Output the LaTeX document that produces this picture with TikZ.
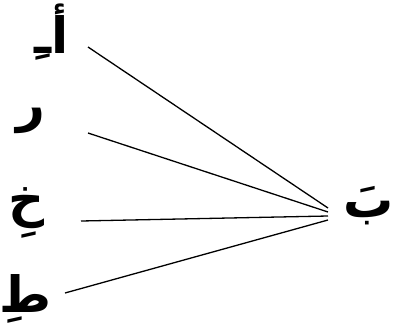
\documentclass[tikz,border=0pt]{standalone}
\usepackage{fontspec}
\TeXXeTstate=1
\newfontfamily\arabicfont[Script=Arabic]{DejaVu Sans}
\begin{document}
\begin{tikzpicture}[x=1pt,y=-1pt,
  lbl/.style={font=\arabicfont\bfseries\fontsize{50}{56}\selectfont, inner sep=0pt},
  link/.style={line width=1.3pt}]
\useasboundingbox (0,0) rectangle (400,325);
\node[lbl] (a) at (52,32) {\beginR أـِ\endR};
\node[lbl] (r) at (31,121) {\beginR ر\endR};
\node[lbl] (k) at (27,213) {\beginR خِ\endR};
\node[lbl] (t) at (25,299) {\beginR طِ\endR};
\node[lbl] (b) at (369,206) {\beginR بَ\endR};
\coordinate (a0) at (88,47);
\coordinate (r0) at (88,133);
\coordinate (k0) at (81,221);
\coordinate (t0) at (65,293);
\coordinate (e1) at (328,208);
\coordinate (e2) at (328,212);
\coordinate (e3) at (328,216);
\coordinate (e4) at (328,220);
\draw[link] (a0) -- (e1);
\draw[link] (r0) -- (e2);
\draw[link] (k0) -- (e3);
\draw[link] (t0) -- (e4);
\end{tikzpicture}
\end{document}
